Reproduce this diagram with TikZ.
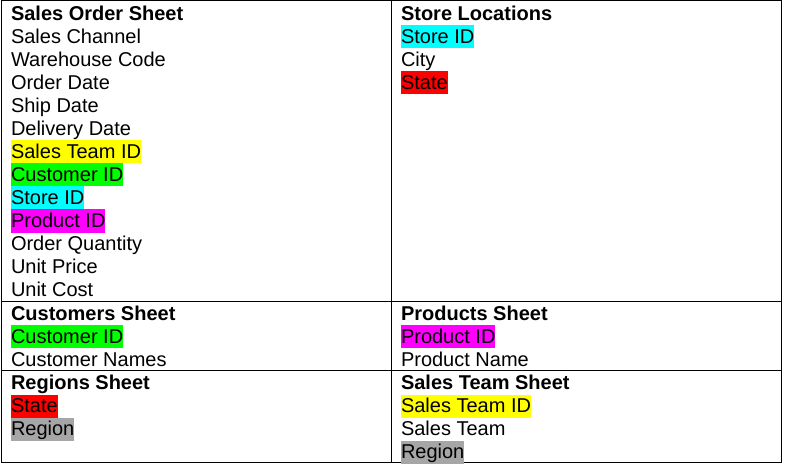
\documentclass[tikz,border=0pt]{standalone}
\usepackage{fontspec}
\setmainfont{Liberation Sans}
\usetikzlibrary{positioning}
\definecolor{keyyellow}{HTML}{FFFF00}
\definecolor{keygreen}{HTML}{00FF00}
\definecolor{keycyan}{HTML}{00FFFF}
\definecolor{keymagenta}{HTML}{FF00FF}
\definecolor{keyred}{HTML}{FF0000}
\definecolor{keygray}{HTML}{A6A6A6}
\tikzset{fld/.style={anchor=north west,inner sep=0pt,outer sep=0pt,text height=18pt,text depth=5pt,font=\fontsize{20}{23}\selectfont},
ttl/.style={fld,font=\fontsize{20}{23}\selectfont\bfseries},
under/.style={below=0pt of #1.south west,anchor=north west}}
\begin{document}
\begin{tikzpicture}[x=1pt,y=-1pt,grid/.style={line width=1pt}]
	\useasboundingbox (0,0) rectangle (785,468);
	% table lines
	\draw[grid] (1,1) rectangle (781,462);
	\draw[grid] (391.5,1) -- (391.5,462);
	\draw[grid] (1,301) -- (781,301);
	\draw[grid] (1,370) -- (781,370);

	% sales order sheet
	\node[ttl] (sos) at (11,2.5) {Sales Order Sheet};
	\node[fld,under=sos] (chan) {Sales Channel};
	\node[fld,under=chan] (whc) {Warehouse Code};
	\node[fld,under=whc] (odate) {Order Date};
	\node[fld,under=odate] (sdate) {Ship Date};
	\node[fld,under=sdate] (ddate) {Delivery Date};
	\node[fld,fill=keyyellow,under=ddate] (steam) {Sales Team ID};
	\node[fld,fill=keygreen,under=steam] (cust) {Customer ID};
	\node[fld,fill=keycyan,under=cust] (store) {Store ID};
	\node[fld,fill=keymagenta,under=store] (prod) {Product ID};
	\node[fld,under=prod] (qty) {Order Quantity};
	\node[fld,under=qty] (price) {Unit Price};
	\node[fld,under=price] (cost) {Unit Cost};

	% store locations
	\node[ttl] (sloc) at (401,2.5) {Store Locations};
	\node[fld,fill=keycyan,under=sloc] (sl-id) {Store ID};
	\node[fld,under=sl-id] (sl-city) {City};
	\node[fld,fill=keyred,under=sl-city] (sl-state) {State};

	% customers
	\node[ttl] (cs) at (11,302) {Customers Sheet};
	\node[fld,fill=keygreen,under=cs] (cs-id) {Customer ID};
	\node[fld,under=cs-id] (cs-name) {Customer Names};

	% products
	\node[ttl] (ps) at (401,302) {Products Sheet};
	\node[fld,fill=keymagenta,under=ps] (ps-id) {Product ID};
	\node[fld,under=ps-id] (ps-name) {Product Name};

	% regions
	\node[ttl] (rs) at (11,371.5) {Regions Sheet};
	\node[fld,fill=keyred,under=rs] (rs-state) {State};
	\node[fld,fill=keygray,under=rs-state] (rs-reg) {Region};

	% sales team
	\node[ttl] (sts) at (401,371.5) {Sales Team Sheet};
	\node[fld,fill=keyyellow,under=sts] (st-id) {Sales Team ID};
	\node[fld,under=st-id] (st-name) {Sales Team};
	\node[fld,fill=keygray,under=st-name] (st-reg) {Region};
\end{tikzpicture}
\end{document}
